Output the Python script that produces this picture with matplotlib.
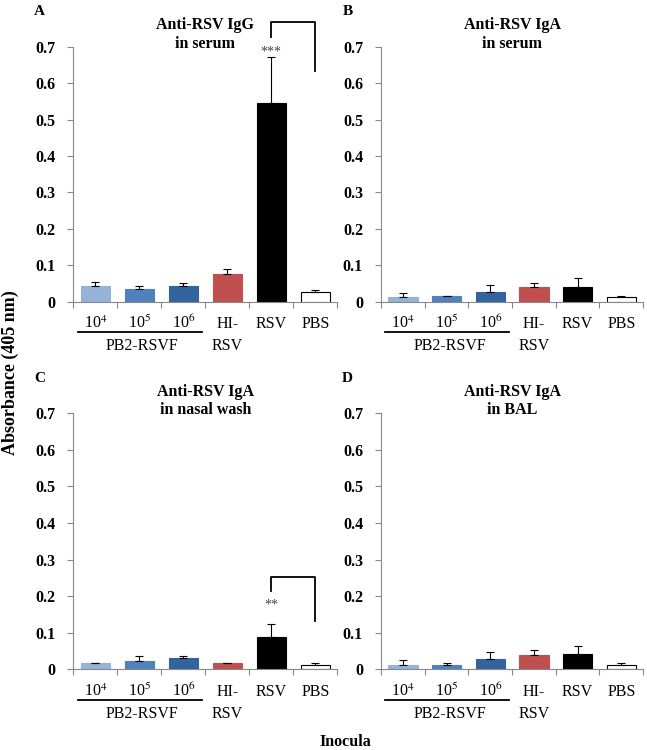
import matplotlib
matplotlib.use("Agg")
import matplotlib.pyplot as plt
import numpy as np

plt.rcParams["font.family"] = ["Liberation Serif", "DejaVu Serif"]
plt.rcParams["mathtext.fontset"] = "stix"

# data
inocula = [r"10$^4$", r"10$^5$", r"10$^6$", "HI-\nRSV", "RSV", "PBS"]
group_label = "PB2-RSVF"
bar_colors = ["#95b3d7", "#4f81bd", "#31639c", "#c0504d", "#000000", "#ffffff"]
edge_colors = ["#95b3d7", "#4f81bd", "#31639c", "#c0504d", "#000000", "#000000"]

igg_serum = [0.042, 0.036, 0.042, 0.077, 0.545, 0.026]
igg_serum_err = [0.012, 0.006, 0.009, 0.012, 0.128, 0.006]

iga_serum = [0.012, 0.015, 0.028, 0.040, 0.040, 0.013]
iga_serum_err = [0.011, 0.002, 0.018, 0.011, 0.025, 0.002]

iga_nasal = [0.016, 0.024, 0.030, 0.016, 0.088, 0.011]
iga_nasal_err = [0.002, 0.013, 0.007, 0.002, 0.036, 0.007]

iga_bal = [0.013, 0.013, 0.028, 0.039, 0.042, 0.013]
iga_bal_err = [0.012, 0.005, 0.020, 0.013, 0.022, 0.004]

panels = [
    ("A", ["Anti-RSV IgG", "in serum"], igg_serum, igg_serum_err, [0.1133, 0.5977, 0.408, 0.340]),
    ("B", ["Anti-RSV IgA", "in serum"], iga_serum, iga_serum_err, [0.589, 0.5977, 0.405, 0.340]),
    ("C", ["Anti-RSV IgA", "in nasal wash"], iga_nasal, iga_nasal_err, [0.1133, 0.1076, 0.408, 0.3413]),
    ("D", ["Anti-RSV IgA", "in BAL"], iga_bal, iga_bal_err, [0.589, 0.1076, 0.405, 0.3413]),
]

# significance brackets: rsv end, top, pbs end, star y, stars
brackets = {
    "A": (0.727, 0.768, 0.634, 0.686, "***"),
    "C": (0.215, 0.253, 0.133, 0.176, "**"),
}

FS = 11.5
fig = plt.figure(figsize=(6.47, 7.5), dpi=100)

for letter, title, vals, errs, pos in panels:
    ax = fig.add_axes(pos)
    x = np.arange(len(vals))
    ax.bar(x, vals, width=0.67, color=bar_colors, edgecolor=edge_colors, linewidth=0.8,
           yerr=[np.zeros(len(errs)), errs], capsize=3,
           error_kw=dict(elinewidth=0.8, capthick=0.8, ecolor="black"))
    ax.set_xlim(-0.5, 5.5)
    ax.set_ylim(0, 0.7)
    ax.set_yticks(np.arange(0, 0.71, 0.1))
    ax.set_yticklabels(["0"] + ["%.1f" % v for v in np.arange(0.1, 0.71, 0.1)],
                       fontweight="bold", fontsize=FS)
    ax.set_xticks(np.arange(-0.5, 6, 1))
    ax.set_xticklabels([])
    ax.tick_params(axis="x", length=4, color="#888888", direction="out")
    ax.tick_params(axis="y", length=4, color="#888888", pad=9)
    for s in ["top", "right"]:
        ax.spines[s].set_visible(False)
    for s in ["left", "bottom"]:
        ax.spines[s].set_color("#888888")
        ax.spines[s].set_linewidth(0.8)

    # category labels, one line at a time so baselines line up
    tr = ax.get_xaxis_transform()
    for i, lab in enumerate(inocula):
        for j, line in enumerate(lab.split("\n")):
            ax.text(i, -0.104 - j * 0.086, line, fontsize=FS, ha="center",
                    va="baseline", transform=tr)

    # PB2-RSVF group line
    ax.plot([-0.4, 2.42], [-0.118, -0.118], color="black", linewidth=1.3,
            transform=tr, clip_on=False)
    ax.text(1.07, -0.19, group_label, fontsize=FS, ha="center", va="baseline",
            transform=tr)

    # title, two lines
    ax.text(0.5, 1.068, title[0], fontsize=FS, fontweight="bold", ha="center",
            va="baseline", transform=ax.transAxes)
    ax.text(0.5, 0.996, title[1], fontsize=FS, fontweight="bold", ha="center",
            va="baseline", transform=ax.transAxes)

    ax.text(-0.128, 1.138, letter, fontsize=11, fontweight="bold",
            transform=ax.transAxes, ha="center", va="center")

    if letter in brackets:
        y_rsv, y_top, y_pbs, y_star, stars = brackets[letter]
        ax.plot([4, 4, 5, 5], [y_rsv, y_top, y_top, y_pbs], color="black",
                linewidth=1.3, clip_on=False)
        ax.text(4, y_star, stars, fontsize=10, ha="center", va="center", color="#444444")

fig.text(0.0155, 0.503, "Absorbance (405 nm)", rotation=90, fontsize=13,
         fontweight="bold", ha="center", va="center")
fig.text(0.533, 0.0107, "Inocula", fontsize=FS, fontweight="bold", ha="center", va="center")

fig.savefig("out.png", dpi=100)
plt.close()
